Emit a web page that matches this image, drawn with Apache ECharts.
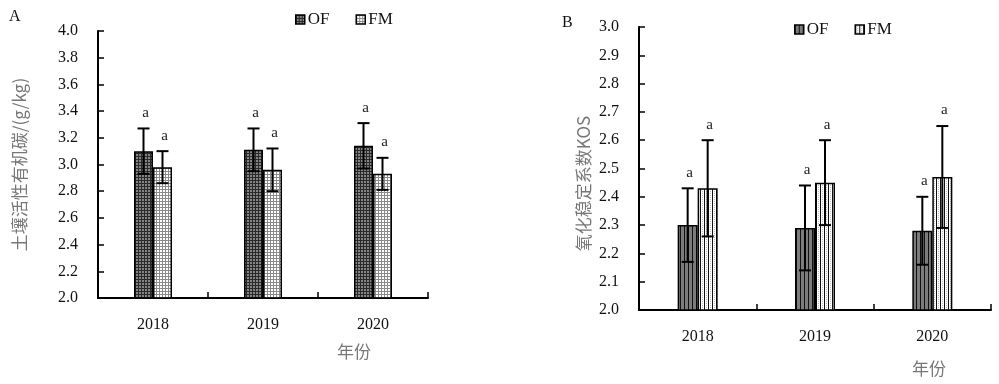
<!DOCTYPE html>
<html><head><meta charset="utf-8">
<script src="https://cdn.jsdelivr.net/npm/echarts@6/dist/echarts.min.js"></script>
<style>html,body{margin:0;padding:0;background:#fff}#c{width:999px;height:384px}</style>
</head><body><div id="c"></div>
<script>
const years = ['2018', '2019', '2020'];
const socOF = [3.10, 3.11, 3.14];
const socOFErr = [0.17, 0.16, 0.17];
const socFM = [2.98, 2.96, 2.93];
const socFMErr = [0.12, 0.16, 0.12];
const kosOF = [2.30, 2.29, 2.28];
const kosOFErr = [0.13, 0.15, 0.12];
const kosFM = [2.43, 2.45, 2.47];
const kosFMErr = [0.17, 0.15, 0.18];
const sigSocOF = ['a', 'a', 'a'];
const sigSocFM = ['a', 'a', 'a'];
const sigKosOF = ['a', 'a', 'a'];
const sigKosFM = ['a', 'a', 'a'];
const socTicks = [2.0, 4.0, 0.2];
const kosTicks = [2.0, 3.0, 0.1];

function pat(w, h, draw) {
  const c = document.createElement('canvas'); c.width = w; c.height = h;
  const g = c.getContext('2d'); draw(g);
  return { image: c, repeat: 'repeat' };
}
const ofA = pat(3, 3, g => { g.fillStyle = '#858585'; g.fillRect(0,0,3,3); g.fillStyle = '#2a2a2a'; g.fillRect(0,0,3,1); g.fillRect(0,0,1,3); });
const fmA = pat(3, 3, g => { g.fillStyle = '#ffffff'; g.fillRect(0,0,3,3); g.fillStyle = '#8a8a8a'; g.fillRect(0,0,3,1); g.fillRect(0,0,1,3); });
const ofB = pat(4, 4, g => { g.fillStyle = '#7c7c7c'; g.fillRect(0,0,4,4); g.fillStyle = '#111'; g.fillRect(0,0,1,4); });
const fmB = pat(4, 4, g => { g.fillStyle = '#ffffff'; g.fillRect(0,0,4,4); g.fillStyle = '#111'; g.fillRect(0,0,1,4); g.fillStyle = '#bbb'; g.fillRect(2,1,1,1); g.fillRect(2,3,1,1); });

const SERIF = '"Liberation Serif","Times New Roman",serif';
const CJK = '"Noto Sans CJK SC",sans-serif';
const BWA = 19, BWB = 20;

function errSeries(xi, yi, vals, errs, sigs, side, bw) {
  return {
    type: 'custom', xAxisIndex: xi, yAxisIndex: yi, z: 10,
    data: vals.map((v, i) => [i, v, errs[i]]),
    renderItem: function (params, api) {
      const i = api.value(0), v = api.value(1), e = api.value(2);
      const sig = sigs[i];
      const base = api.coord([i, v]);
      const cx = base[0] + side * bw / 2;
      const top = api.coord([i, v + e])[1];
      const bot = api.coord([i, v - e])[1];
      const cap = 6;
      const st = { stroke: '#000', lineWidth: 2 };
      return { type: 'group', children: [
        { type: 'line', shape: { x1: cx, y1: top, x2: cx, y2: bot }, style: st },
        { type: 'line', shape: { x1: cx - cap, y1: top, x2: cx + cap, y2: top }, style: st },
        { type: 'line', shape: { x1: cx - cap, y1: bot, x2: cx + cap, y2: bot }, style: st },
        { type: 'text', style: { text: sig, x: cx + 2, y: top - 8, textAlign: 'center', textVerticalAlign: 'bottom', font: '15px ' + SERIF, fill: '#222' } }
      ]};
    }
  };
}

function yAx(gi, t, name, gap, pad) {
  return {
    type: 'value', gridIndex: gi, min: t[0], max: t[1], interval: t[2],
    name: name, nameLocation: 'middle', nameGap: gap,
    nameTextStyle: { fontFamily: CJK, fontSize: 17, color: '#777', padding: pad },
    axisLine: { show: true, lineStyle: { color: '#000', width: 2 } },
    axisTick: { show: true, inside: true, length: 6, lineStyle: { color: '#000', width: 1.5 } },
    axisLabel: { fontFamily: SERIF, fontSize: 16, color: '#111', margin: 20, formatter: v => v.toFixed(1) },
    splitLine: { show: false }
  };
}
function xAx(gi) {
  return {
    type: 'category', gridIndex: gi, data: years,
    axisLine: { lineStyle: { color: '#000', width: 2 } },
    axisTick: { show: true, inside: true, length: 6, lineStyle: { color: '#000', width: 1.5 } },
    axisLabel: { fontFamily: SERIF, fontSize: 16, color: '#111', margin: 19 }
  };
}
const barStyle = (c) => ({ color: c, borderColor: '#000', borderWidth: 1.5 });

const chart = echarts.init(document.getElementById('c'), null, { renderer: 'canvas' });
chart.setOption({
  animation: false,
  backgroundColor: '#fff',
  grid: [
    { left: 98, top: 31, width: 330, height: 267 },
    { left: 639, top: 27, width: 352, height: 283 }
  ],
  xAxis: [xAx(0), xAx(1)],
  yAxis: [yAx(0, socTicks, '土壤活性有机碳/(g/kg)', 70, [0,0,0,0]), yAx(1, kosTicks, '氧化稳定系数KOS', 47, [0,30,0,0])],
  legend: [
    { left: 290, top: 6, itemWidth: 9, itemHeight: 9, itemGap: 26, icon: 'rect',
      textStyle: { fontFamily: SERIF, fontSize: 17, color: '#111', padding: [0,0,0,-2] },
      data: [{ name: 'OF', itemStyle: barStyle(ofA) }, { name: 'FM', itemStyle: barStyle(fmA) }] },
    { left: 789, top: 16, itemWidth: 9, itemHeight: 9, itemGap: 26, icon: 'rect',
      textStyle: { fontFamily: SERIF, fontSize: 17, color: '#111', padding: [0,0,0,-2] },
      data: [{ name: 'OF', itemStyle: barStyle(ofB) }, { name: 'FM', itemStyle: barStyle(fmB) }] }
  ],
  graphic: [
    { type: 'text', left: 9, top: 9, style: { text: 'A', font: '16px ' + SERIF, fill: '#111' } },
    { type: 'text', left: 562, top: 15, style: { text: 'B', font: '16px ' + SERIF, fill: '#111' } },
    { type: 'text', left: 337, top: 343, style: { text: '年份', font: '17px ' + CJK, fill: '#777' } },
    { type: 'text', left: 912, top: 360, style: { text: '年份', font: '17px ' + CJK, fill: '#777' } }
  ],
  series: [
    { name: 'OF', type: 'bar', xAxisIndex: 0, yAxisIndex: 0, data: socOF, barWidth: BWA, barGap: '0%', itemStyle: barStyle(ofA) },
    { name: 'FM', type: 'bar', xAxisIndex: 0, yAxisIndex: 0, data: socFM, barWidth: BWA, barGap: '0%', itemStyle: barStyle(fmA) },
    { name: 'OF', type: 'bar', xAxisIndex: 1, yAxisIndex: 1, data: kosOF, barWidth: BWB, barGap: '0%', itemStyle: barStyle(ofB) },
    { name: 'FM', type: 'bar', xAxisIndex: 1, yAxisIndex: 1, data: kosFM, barWidth: BWB, barGap: '0%', itemStyle: barStyle(fmB) },
    errSeries(0, 0, socOF, socOFErr, sigSocOF, -1, BWA),
    errSeries(0, 0, socFM, socFMErr, sigSocFM, 1, BWA),
    errSeries(1, 1, kosOF, kosOFErr, sigKosOF, -1, BWB),
    errSeries(1, 1, kosFM, kosFMErr, sigKosFM, 1, BWB)
  ]
});
</script></body></html>
